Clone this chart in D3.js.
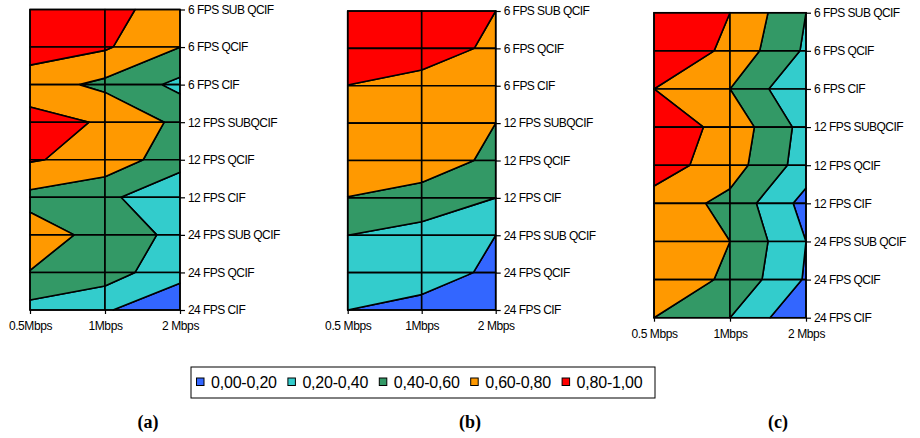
<!DOCTYPE html>
<html><head><meta charset="utf-8">
<script src="https://cdn.jsdelivr.net/npm/d3@7"></script>
<style>body{margin:0;background:#fff;} svg{display:block;}</style>
</head><body>
<svg id="chart" width="920" height="438"></svg>
<script>
// ---------- data ----------
const rowLabels = ["6 FPS SUB QCIF","6 FPS QCIF","6 FPS CIF","12 FPS SUBQCIF","12 FPS QCIF","12 FPS CIF","24 FPS SUB QCIF","24 FPS QCIF","24 FPS CIF"];
const xLabelsA = ["0.5Mbps","1Mbps","2 Mbps"];
const xLabelsB = ["0.5 Mbps","1Mbps","2 Mbps"];
const xLabelsC = ["0.5 Mbps","1Mbps","2 Mbps"];
// values per row (top to bottom), columns 0.5 / 1 / 2 Mbps
const valuesA = [
  [0.92, 0.867, 0.70],
  [0.902, 0.824, 0.602],
  [0.69, 0.553, 0.35],
  [0.874, 0.78, 0.552],
  [0.817, 0.732, 0.473],
  [0.545, 0.44, 0.252],
  [0.683, 0.542, 0.336],
  [0.595, 0.507, 0.24],
  [0.33, 0.212, 0.10]
];
const valuesB = [
  [0.97, 0.95, 0.80],
  [0.90, 0.898, 0.76],
  [0.798, 0.729, 0.61],
  [0.74, 0.70, 0.60],
  [0.67, 0.66, 0.575],
  [0.598, 0.558, 0.40],
  [0.40, 0.311, 0.20],
  [0.30, 0.26, 0.174],
  [0.20, 0.158, 0.08]
];
const valuesC = [
  [0.95, 0.80, 0.40],
  [1.00, 0.747, 0.37],
  [0.80, 0.60, 0.208],
  [0.934, 0.728, 0.328],
  [0.896, 0.692, 0.305],
  [0.72, 0.543, 0.13],
  [0.70, 0.60, 0.20],
  [0.75, 0.56, 0.18],
  [0.60, 0.40, 0.02]
];
const bandLabels = ["0,00-0,20","0,20-0,40","0,40-0,60","0,60-0,80","0,80-1,00"];
const bandLow = [-Infinity, 0.2, 0.4, 0.6, 0.8];
const bandHigh = [0.2, 0.4, 0.6, 0.8, Infinity];
const bandColors = ["#3366FF","#33CCCC","#339966","#FF9900","#FF0000"];
const panelTags = ["(a)","(b)","(c)"];

// ---------- layout ----------
const panels = [
  {values: valuesA, xLabels: xLabelsA, left: 30,    right: 180,   top: 9.5,  bottom: 310,   tagX: 148},
  {values: valuesB, xLabels: xLabelsB, left: 347.7, right: 495.7, top: 11,   bottom: 310,   tagX: 470},
  {values: valuesC, xLabels: xLabelsC, left: 654,   right: 806,   top: 12.7, bottom: 317.7, tagX: 778}
];
const svg = d3.select("#chart");
const FONT = "'Liberation Sans', Arial, Helvetica, sans-serif";

function clip(poly, thr, keepAbove) {
  const out = [];
  for (let k = 0; k < poly.length; k++) {
    const a = poly[k], b = poly[(k + 1) % poly.length];
    const ina = keepAbove ? a.v >= thr : a.v < thr;
    const inb = keepAbove ? b.v >= thr : b.v < thr;
    if (ina) out.push(a);
    if (ina !== inb) {
      const t = (thr - a.v) / (b.v - a.v);
      out.push({c: a.c + t * (b.c - a.c), r: a.r + t * (b.r - a.r), v: thr});
    }
  }
  return out;
}

panels.forEach((p, pi) => {
  const g = svg.append("g");
  const x = d3.scalePoint().domain(p.xLabels).range([p.left, p.right]);
  const y = d3.scalePoint().domain(rowLabels).range([p.top, p.bottom]);
  const xi = d3.scaleLinear().domain([0, p.xLabels.length - 1]).range([x(p.xLabels[0]), x(p.xLabels[p.xLabels.length - 1])]);
  const yi = d3.scaleLinear().domain([0, rowLabels.length - 1]).range([y(rowLabels[0]), y(rowLabels[rowLabels.length - 1])]);
  const line = d3.line().x(d => xi(d.c)).y(d => yi(d.r));
  const V = p.values;
  for (let r = 0; r < rowLabels.length - 1; r++) {
    for (let c = 0; c < p.xLabels.length - 1; c++) {
      const quad = [
        {c: c, r: r, v: V[r][c]},
        {c: c + 1, r: r, v: V[r][c + 1]},
        {c: c + 1, r: r + 1, v: V[r + 1][c + 1]},
        {c: c, r: r + 1, v: V[r + 1][c]}
      ];
      bandColors.forEach((col, b) => {
        let poly = quad;
        if (isFinite(bandLow[b])) poly = clip(poly, bandLow[b], true);
        if (poly.length >= 3 && isFinite(bandHigh[b])) poly = clip(poly, bandHigh[b], false);
        if (poly.length >= 3) {
          g.append("path").attr("d", line(poly) + "Z")
            .attr("fill", col).attr("stroke", "#000").attr("stroke-width", 1.6)
            .attr("stroke-linejoin", "round");
        }
      });
    }
  }
  g.append("rect").attr("x", p.left).attr("y", p.top)
    .attr("width", p.right - p.left).attr("height", p.bottom - p.top)
    .attr("fill", "none").attr("stroke", "#000").attr("stroke-width", 1.5);

  const ya = g.append("g").attr("transform", `translate(${p.right},0)`)
    .call(d3.axisRight(y).tickSize(5).tickPadding(3));
  ya.select(".domain").remove();
  ya.selectAll("line").attr("stroke", "#000").attr("stroke-width", 1.2);
  ya.selectAll("text").attr("font-family", FONT).attr("font-size", 12)
    .attr("letter-spacing", "-0.55px").attr("fill", "#000");

  const xa = g.append("g").attr("transform", `translate(0,${p.bottom})`)
    .call(d3.axisBottom(x).tickSize(4).tickPadding(7.5));
  xa.select(".domain").remove();
  xa.selectAll("line").attr("stroke", "#000").attr("stroke-width", 1.2);
  xa.selectAll("text").attr("font-family", FONT).attr("font-size", 12)
    .attr("letter-spacing", "-0.4px").attr("fill", "#000");

  svg.append("text").attr("x", p.tagX).attr("y", 428).attr("text-anchor", "middle")
    .attr("font-family", "'Liberation Serif', 'Times New Roman', serif")
    .attr("font-weight", "bold").attr("font-size", 18).text(panelTags[pi]);
});

// ---------- legend ----------
const lg = svg.append("g");
lg.append("rect").attr("x", 191).attr("y", 367).attr("width", 464).attr("height", 31)
  .attr("fill", "#fff").attr("stroke", "#000").attr("stroke-width", 1);
bandLabels.forEach((lab, k) => {
  const x0 = 196.5 + k * 91.4;
  lg.append("rect").attr("x", x0).attr("y", 378).attr("width", 7.5).attr("height", 7.5)
    .attr("fill", bandColors[k]).attr("stroke", "#000").attr("stroke-width", 1);
  lg.append("text").attr("x", x0 + 14.5).attr("y", 388)
    .attr("font-family", FONT).attr("font-size", 16).attr("letter-spacing", "-0.2px").text(lab);
});
</script>
</body></html>
